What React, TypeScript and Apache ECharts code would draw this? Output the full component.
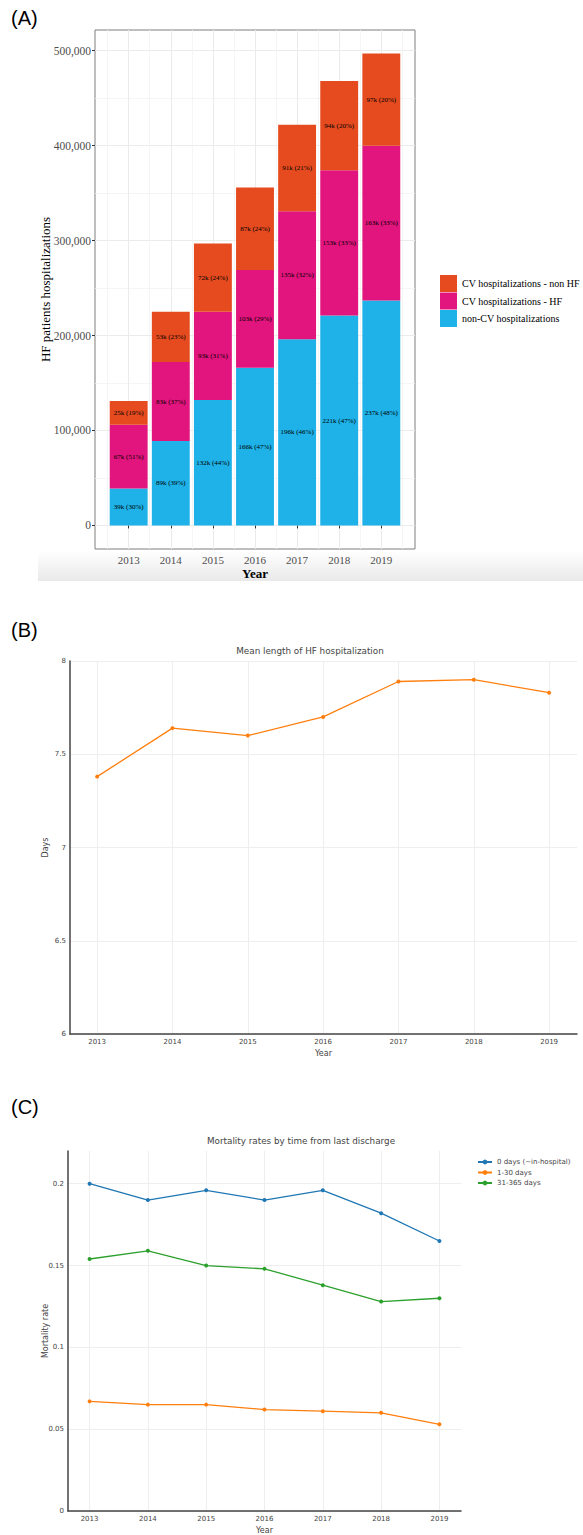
import React, { useEffect, useRef } from "react";
import * as echarts from "echarts";

// ---- Panel A: hospitalizations of HF patients (thousands) ----
const years = [2013, 2014, 2015, 2016, 2017, 2018, 2019];
const yearLabels = ["2013", "2014", "2015", "2016", "2017", "2018", "2019"];
const nonCvK = [39, 89, 132, 166, 196, 221, 237];
const cvHfK = [67, 83, 93, 103, 135, 153, 163];
const cvNonHfK = [25, 53, 72, 87, 91, 94, 97];
const nonCvPct = [30, 39, 44, 47, 46, 47, 48];
const cvHfPct = [51, 37, 31, 29, 32, 33, 33];
const cvNonHfPct = [19, 23, 24, 24, 21, 20, 20];
const hospTicks = [0, 100000, 200000, 300000, 400000, 500000];
const hospMinorTicks = [50000, 150000, 250000, 350000, 450000];
const yearMinorTicks = [2012.5, 2013.5, 2014.5, 2015.5, 2016.5, 2017.5, 2018.5, 2019.5];

// ---- Panel B: mean length of HF hospitalization (days) ----
const meanStayDays = [7.38, 7.64, 7.6, 7.7, 7.89, 7.9, 7.83];
const dayTicks = [6, 6.5, 7, 7.5, 8];

// ---- Panel C: mortality rates by time from last discharge ----
const mortInHospital = [0.2, 0.19, 0.196, 0.19, 0.196, 0.182, 0.165];
const mort1to30 = [0.067, 0.065, 0.065, 0.062, 0.061, 0.06, 0.053];
const mort31to365 = [0.154, 0.159, 0.15, 0.148, 0.138, 0.128, 0.13];
const rateTicks = [0, 0.05, 0.1, 0.15, 0.2];

const SERIF = "Liberation Serif";
const SANS = "DejaVu Sans";

const C_NONHF = "#E54B1F";
const C_HF = "#E2147D";
const C_NONCV = "#1EB2E8";

// Panel A geometry: the panel spans years 2012.2..2019.8; bars live in a
// category grid covering 2012.5..2019.5 so each band is one year wide.
const A_LEFT = 95;
const A_RIGHT_EDGE = 415;
const A_MIN = 2012.2;
const A_MAX = 2019.8;
const A_UNIT = (A_RIGHT_EDGE - A_LEFT) / (A_MAX - A_MIN);
const BAR_LEFT = A_LEFT + (2012.5 - A_MIN) * A_UNIT;
const BAR_RIGHT = A_LEFT + (2019.5 - A_MIN) * A_UNIT;
const Y_MIN = -24850;
const Y_MAX = 521850;

function pairs(vals: number[]) {
  return years.map((y, i) => [y, vals[i]]);
}

function App() {
  const ref = useRef<HTMLDivElement>(null);

  useEffect(() => {
    document.body.style.margin = "0";
    if (!ref.current) return;
    const chart = echarts.init(ref.current, null, { renderer: "svg" });

    const barLabel = (pct: number[], k: number[]) => ({
      show: true,
      position: "inside",
      formatter: (p: any) => `${k[p.dataIndex]}k (${pct[p.dataIndex]}%)`,
      fontFamily: SERIF,
      fontSize: 7,
      color: "#000",
    });

    const plotlyGrid = { color: "#eeeeee", width: 1 };

    const option: any = {
      animation: false,
      backgroundColor: "#ffffff",
      grid: [
        { left: A_LEFT, right: 583 - A_RIGHT_EDGE, top: 30, height: 519, show: true, borderColor: "#7f7f7f", borderWidth: 1, backgroundColor: "transparent" },
        { left: 70, right: 6, top: 661, height: 373 },
        { left: 68, right: 122, top: 1151, height: 361 },
        { left: BAR_LEFT, right: 583 - BAR_RIGHT, top: 30, height: 519 },
      ],
      xAxis: [
        {
          type: "value",
          gridIndex: 0,
          min: A_MIN,
          max: A_MAX,
          axisLine: { show: false },
          axisTick: { show: true, customValues: years, length: 3, lineStyle: { color: "#333" } },
          axisLabel: { customValues: years, formatter: (v: number) => String(v), fontFamily: SERIF, fontSize: 11, color: "#4d4d4d", margin: 5 },
          splitLine: { show: true, lineStyle: { color: "#ebebeb", width: 1 } },
          name: "Year",
          nameLocation: "middle",
          nameGap: 18,
          nameTextStyle: { fontFamily: SERIF, fontSize: 13, color: "#000", fontWeight: "bold" },
        },
        {
          type: "value",
          gridIndex: 0,
          min: A_MIN,
          max: A_MAX,
          position: "top",
          axisLine: { show: false },
          axisTick: { show: false, customValues: yearMinorTicks },
          axisLabel: { show: false, customValues: yearMinorTicks },
          splitLine: { show: true, lineStyle: { color: "#f2f2f2", width: 0.8 } },
        },
        {
          type: "value",
          gridIndex: 1,
          min: 2012.64,
          max: 2019.37,
          axisLine: { show: true, lineStyle: { color: "#444", width: 1.5 } },
          axisTick: { show: false, customValues: years },
          axisLabel: { customValues: years, formatter: (v: number) => String(v), fontFamily: SANS, fontSize: 7, color: "#444", margin: 4 },
          splitLine: { show: true, lineStyle: plotlyGrid },
          name: "Year",
          nameLocation: "middle",
          nameGap: 15,
          nameTextStyle: { fontFamily: SANS, fontSize: 8, color: "#444" },
        },
        {
          type: "value",
          gridIndex: 2,
          min: 2012.63,
          max: 2019.37,
          axisLine: { show: true, lineStyle: { color: "#444", width: 1.5 } },
          axisTick: { show: false, customValues: years },
          axisLabel: { customValues: years, formatter: (v: number) => String(v), fontFamily: SANS, fontSize: 7, color: "#444", margin: 4 },
          splitLine: { show: true, lineStyle: plotlyGrid },
          name: "Year",
          nameLocation: "middle",
          nameGap: 15,
          nameTextStyle: { fontFamily: SANS, fontSize: 8, color: "#444" },
        },
        {
          type: "category",
          gridIndex: 3,
          data: yearLabels,
          boundaryGap: true,
          show: false,
        },
      ],
      yAxis: [
        {
          type: "value",
          gridIndex: 0,
          min: Y_MIN,
          max: Y_MAX,
          axisLine: { show: false },
          axisTick: { show: true, customValues: hospTicks, length: 3, lineStyle: { color: "#333" } },
          axisLabel: {
            customValues: hospTicks,
            formatter: (v: number) => v.toLocaleString("en-US"),
            fontFamily: SERIF,
            fontSize: 11.5,
            color: "#4d4d4d",
            margin: 4,
          },
          splitLine: { show: true, lineStyle: { color: "#ebebeb", width: 1 } },
          name: "HF patients hospitalizations",
          nameLocation: "middle",
          nameGap: 43,
          nameMoveOverlap: false,
          nameTextStyle: { fontFamily: SERIF, fontSize: 13, color: "#000" },
        },
        {
          type: "value",
          gridIndex: 0,
          min: Y_MIN,
          max: Y_MAX,
          position: "right",
          axisLine: { show: false },
          axisTick: { show: false, customValues: hospMinorTicks },
          axisLabel: { show: false, customValues: hospMinorTicks },
          splitLine: { show: true, lineStyle: { color: "#f2f2f2", width: 0.8 } },
        },
        {
          type: "value",
          gridIndex: 1,
          min: 6,
          max: 8,
          axisLine: { show: true, lineStyle: { color: "#444", width: 1.5 } },
          axisTick: { show: false, customValues: dayTicks },
          axisLabel: { customValues: dayTicks, fontFamily: SANS, fontSize: 7, color: "#444", margin: 4 },
          splitLine: { show: true, lineStyle: plotlyGrid },
          name: "Days",
          nameLocation: "middle",
          nameGap: 21,
          nameMoveOverlap: false,
          nameTextStyle: { fontFamily: SANS, fontSize: 8, color: "#444" },
        },
        {
          type: "value",
          gridIndex: 2,
          min: 0,
          max: 0.22,
          axisLine: { show: true, lineStyle: { color: "#444", width: 1.5 } },
          axisTick: { show: false, customValues: rateTicks },
          axisLabel: { customValues: rateTicks, fontFamily: SANS, fontSize: 7, color: "#444", margin: 4 },
          splitLine: { show: true, lineStyle: plotlyGrid },
          name: "Mortality rate",
          nameLocation: "middle",
          nameGap: 19,
          nameMoveOverlap: false,
          nameTextStyle: { fontFamily: SANS, fontSize: 8, color: "#444" },
        },
        {
          type: "value",
          gridIndex: 3,
          min: Y_MIN,
          max: Y_MAX,
          show: false,
        },
      ],
      legend: [
        {
          data: ["CV hospitalizations - non HF", "CV hospitalizations - HF", "non-CV hospitalizations"],
          orient: "vertical",
          left: 435,
          top: 270,
          itemWidth: 17,
          itemHeight: 17,
          itemGap: 0.5,
          icon: "rect",
          textStyle: { fontFamily: SERIF, fontSize: 10, color: "#000" },
        },
        {
          data: ["0 days (~in-hospital)", "1-30 days", "31-365 days"],
          orient: "vertical",
          left: 472,
          top: 1153,
          itemWidth: 14,
          itemHeight: 6,
          itemGap: 2.5,
          textStyle: { fontFamily: SANS, fontSize: 7, color: "#444", lineHeight: 8 },
        },
      ],
      series: [
        {
          name: "non-CV hospitalizations",
          type: "bar",
          xAxisIndex: 4,
          yAxisIndex: 4,
          stack: "hosp",
          barCategoryGap: "10%",
          itemStyle: { color: C_NONCV },
          label: barLabel(nonCvPct, nonCvK),
          data: nonCvK.map((v) => v * 1000),
        },
        {
          name: "CV hospitalizations - HF",
          type: "bar",
          xAxisIndex: 4,
          yAxisIndex: 4,
          stack: "hosp",
          barCategoryGap: "10%",
          itemStyle: { color: C_HF },
          label: barLabel(cvHfPct, cvHfK),
          data: cvHfK.map((v) => v * 1000),
        },
        {
          name: "CV hospitalizations - non HF",
          type: "bar",
          xAxisIndex: 4,
          yAxisIndex: 4,
          stack: "hosp",
          barCategoryGap: "10%",
          itemStyle: { color: C_NONHF },
          label: barLabel(cvNonHfPct, cvNonHfK),
          data: cvNonHfK.map((v) => v * 1000),
        },
        {
          name: "Mean length",
          type: "line",
          xAxisIndex: 2,
          yAxisIndex: 2,
          symbol: "circle",
          symbolSize: 4,
          itemStyle: { color: "#ff7f0e" },
          lineStyle: { color: "#ff7f0e", width: 1.3 },
          data: pairs(meanStayDays),
        },
        {
          name: "0 days (~in-hospital)",
          type: "line",
          xAxisIndex: 3,
          yAxisIndex: 3,
          symbol: "circle",
          symbolSize: 4,
          itemStyle: { color: "#1f77b4" },
          lineStyle: { color: "#1f77b4", width: 1.3 },
          data: pairs(mortInHospital),
        },
        {
          name: "1-30 days",
          type: "line",
          xAxisIndex: 3,
          yAxisIndex: 3,
          symbol: "circle",
          symbolSize: 4,
          itemStyle: { color: "#ff7f0e" },
          lineStyle: { color: "#ff7f0e", width: 1.3 },
          data: pairs(mort1to30),
        },
        {
          name: "31-365 days",
          type: "line",
          xAxisIndex: 3,
          yAxisIndex: 3,
          symbol: "circle",
          symbolSize: 4,
          itemStyle: { color: "#2ca02c" },
          lineStyle: { color: "#2ca02c", width: 1.3 },
          data: pairs(mort31to365),
        },
      ],
      graphic: [
        {
          type: "rect",
          z: -10,
          silent: true,
          shape: { x: 38, y: 551, width: 545, height: 30 },
          style: {
            fill: new echarts.graphic.LinearGradient(0, 0, 0, 1, [
              { offset: 0, color: "#ffffff" },
              { offset: 1, color: "#e9e9e9" },
            ]),
          },
        },
        { type: "text", x: 11, y: 18, style: { text: "(A)", fontFamily: "Liberation Sans", fontSize: 20, fill: "#000", verticalAlign: "middle" } },
        { type: "text", x: 11, y: 630, style: { text: "(B)", fontFamily: "Liberation Sans", fontSize: 20, fill: "#000", verticalAlign: "middle" } },
        { type: "text", x: 11, y: 1107, style: { text: "(C)", fontFamily: "Liberation Sans", fontSize: 20, fill: "#000", verticalAlign: "middle" } },
        { type: "text", x: 310, y: 651, style: { text: "Mean length of HF hospitalization", fontFamily: SANS, fontSize: 8.8, fill: "#444", align: "center", verticalAlign: "middle" } },
        { type: "text", x: 301, y: 1141, style: { text: "Mortality rates by time from last discharge", fontFamily: SANS, fontSize: 8.8, fill: "#444", align: "center", verticalAlign: "middle" } },
      ],
    };

    chart.setOption(option);
    return () => chart.dispose();
  }, []);

  return <div ref={ref} style={{ width: 583, height: 1535 }} />;
}

export default App;
